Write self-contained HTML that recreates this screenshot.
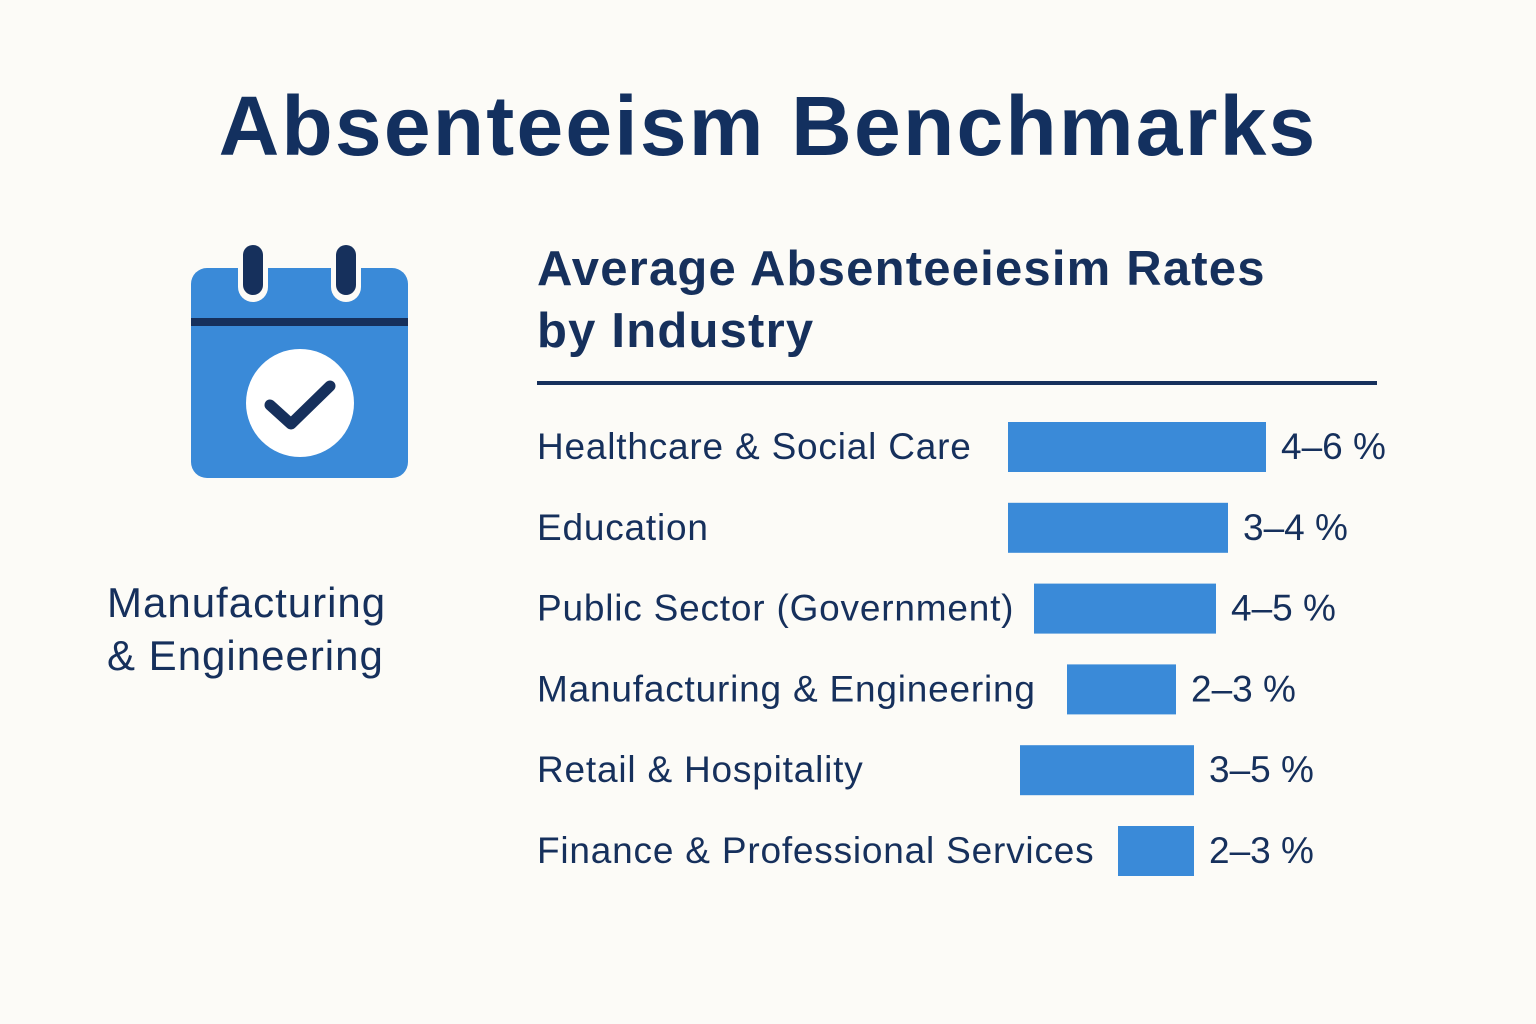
<!DOCTYPE html>
<html><head><meta charset="utf-8"><style>
html,body{margin:0;padding:0;background:#fcfbf7;}
#root{position:relative;width:1536px;height:1024px;overflow:hidden;font-family:"Liberation Sans",sans-serif;color:#16305c;}
.t{position:absolute;white-space:nowrap;}
</style></head><body>
<div id="root">
<div class="t" style="left:0;width:1536px;text-align:center;top:78px;font-size:84px;font-weight:bold;color:#13305f;letter-spacing:2.2px;">Absenteeism Benchmarks</div>
<svg style="position:absolute;left:0;top:0" width="500" height="520">
<rect x="191" y="268" width="217" height="210" rx="16" fill="#3a8ad8"/>
<rect x="191" y="318" width="217" height="8" fill="#16305c"/>
<rect x="238" y="240" width="30" height="62" rx="15" fill="#fcfbf7"/>
<rect x="331" y="240" width="30" height="62" rx="15" fill="#fcfbf7"/>
<rect x="243" y="245" width="20" height="50" rx="10" fill="#16305c"/>
<rect x="336" y="245" width="20" height="50" rx="10" fill="#16305c"/>
<circle cx="300" cy="403" r="54" fill="#fff"/>
<path d="M270 405 L291 424 L330 386" stroke="#16305c" stroke-width="11" fill="none" stroke-linecap="round" stroke-linejoin="round"/>
</svg>
<div class="t" style="left:107px;top:576px;font-size:42px;line-height:53px;letter-spacing:1px;">Manufacturing<br>&amp; Engineering</div>
<div class="t" style="left:537px;top:238px;font-size:49px;font-weight:bold;line-height:62px;letter-spacing:1.2px;">Average Absenteeiesim Rates<br>by Industry</div>
<div style="position:absolute;left:537px;top:381px;width:840px;height:4px;background:#16305c;"></div>
<svg id="chart" style="position:absolute;left:0;top:0" width="1536" height="1024"></svg>
</div>
<script>
const categories=["Healthcare & Social Care","Education","Public Sector (Government)","Manufacturing & Engineering","Retail & Hospitality","Finance & Professional Services"];
const rateLabels=["4–6 %","3–4 %","4–5 %","2–3 %","3–5 %","2–3 %"];
const values=[5.16,4.4,3.64,2.18,3.48,1.52];
const barStarts=[1008,1008,1034,1067,1020,1118];
const svg=document.getElementById('chart');
const ns='http://www.w3.org/2000/svg';
const xLen=v=>v*50;
const yRow=i=>446+i*80.8;
categories.forEach((c,i)=>{
 const y=yRow(i);
 const t=document.createElementNS(ns,'text');
 
 
 t.setAttribute('x',537);t.setAttribute('y',y+13);
 t.setAttribute('font-size','37');t.setAttribute('fill','#16305c');
 t.setAttribute('letter-spacing','0.8');
 t.setAttribute('font-family','Liberation Sans, sans-serif');
 t.textContent=c;svg.appendChild(t);
 const r=document.createElementNS(ns,'rect');
 
 
 r.setAttribute('x',barStarts[i]);r.setAttribute('y',y-24);
 r.setAttribute('width',xLen(values[i]));r.setAttribute('height',50);
 r.setAttribute('fill','#3a8ad8');svg.appendChild(r);
 const v=document.createElementNS(ns,'text');
 
 
 v.setAttribute('x',barStarts[i]+xLen(values[i])+15);v.setAttribute('y',y+13);
 v.setAttribute('font-size','37');v.setAttribute('fill','#16305c');
 v.setAttribute('font-family','Liberation Sans, sans-serif');
 v.textContent=rateLabels[i];svg.appendChild(v);
});
</script>
</body></html>
